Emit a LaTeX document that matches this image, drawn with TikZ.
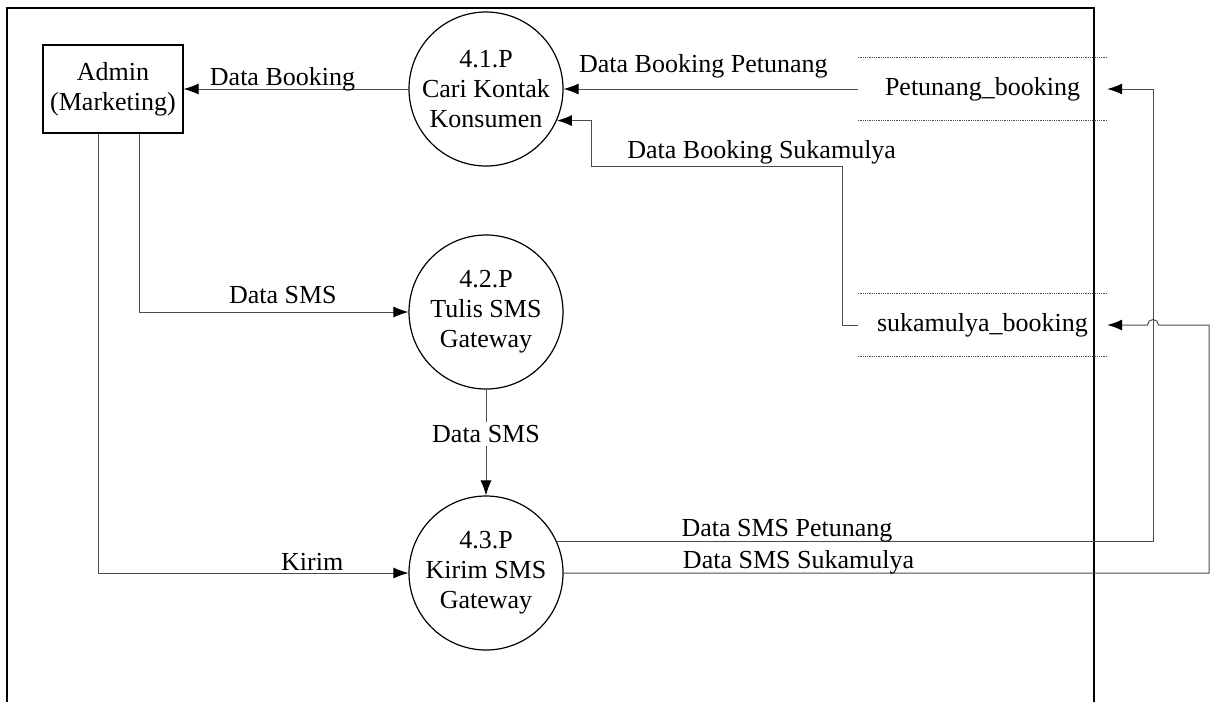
\documentclass[tikz,border=0pt]{standalone}
\usepackage{fontspec}
\setmainfont{Liberation Serif}
\usetikzlibrary{arrows.meta}

\begin{document}
\begin{tikzpicture}[x=1pt, y=-1pt, >={Latex[length=15pt,width=11pt,color=black]},
    font=\fontsize{26}{30}\selectfont,
    proc/.style={circle,draw,line width=1.2pt,minimum size=154pt,inner sep=0pt,align=center},
    ext/.style={rectangle,draw,line width=1.2pt,minimum width=140pt,minimum height=88pt,align=center},
    store/.style={minimum width=249pt,minimum height=62pt,inner sep=0pt},
    storeline/.style={draw=black!70,line width=0.8pt,densely dotted},
    flow/.style={->,draw=black!70,line width=1pt},
    lbl/.style={anchor=base,inner sep=0pt}]
    \useasboundingbox (0,0) rectangle (1214,702);

    % boundary
    \draw[line width=2.2pt] (7,702) -- (7,8) -- (1094,8) -- (1094,702);

    \node[ext] (adm) at (113,89) {Admin\\(Marketing)};
    \node[proc] (c1) at (486,89) {4.1.P\\Cari Kontak\\Konsumen};
    \node[proc] (c2) at (486,312) {4.2.P\\Tulis SMS\\Gateway};
    \node[proc] (c3) at (486,573) {4.3.P\\Kirim SMS\\Gateway};

    % data stores
    \node[store] (pb) at (982.5,89) {Petunang\_booking};
    \node[store] (sb) at (982.5,325) {sukamulya\_booking};
    \draw[storeline] (pb.north west) -- (pb.north east);
    \draw[storeline] (pb.south west) -- (pb.south east);
    \draw[storeline] (sb.north west) -- (sb.north east);
    \draw[storeline] (sb.south west) -- (sb.south east);

    \coordinate (pr) at (1153,89);

    \draw[flow] (c1.west) -- node[lbl,pos=0.56,yshift=4pt] {Data Booking} (adm.east);
    \draw[flow] (pb.west) -- node[lbl,pos=0.525,yshift=17pt] {Data Booking Petunang} (c1.east);
    \draw[flow] (sb.west) -| (842,166) -- node[lbl,pos=0.32,yshift=8pt] {Data Booking Sukamulya} (591,166) |- (c1.-24);
    \draw[flow] ([xshift=26pt]adm.south) |- node[lbl,pos=0.767,yshift=9pt] {Data SMS} (c2.west);
    \draw[flow] ([xshift=-15pt]adm.south) |- node[lbl,pos=0.845,yshift=3pt] {Kirim} (c3.west);
    \draw[flow] (c2.south) -- node[pos=0.42,fill=white,inner sep=3pt] {Data SMS} (c3.north);
    \draw[flow] (c3.24) -| node[lbl,pos=0.193,yshift=5pt] {Data SMS Petunang} (pr) -- (pb.east);
    \draw[flow] (c3.east) -| node[lbl,pos=0.182,yshift=5pt] {Data SMS Sukamulya} (1209,325)
        -- (1158.5,325) arc[start angle=0,end angle=180,radius=5.5pt] -- (sb.east);
\end{tikzpicture}
\end{document}
